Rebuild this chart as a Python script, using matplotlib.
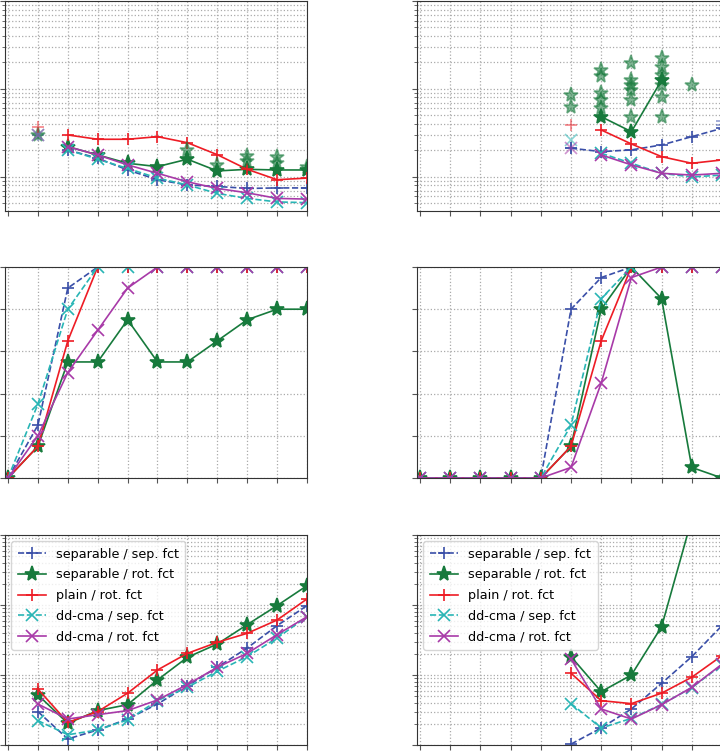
import numpy as np
import matplotlib.pyplot as plt

# x positions (index of problem dimension)
x = np.arange(11)

labels = ['separable / sep. fct', 'separable / rot. fct', 'plain / rot. fct',
          'dd-cma / sep. fct', 'dd-cma / rot. fct']
colors = ['#3a4fa8', '#177a3c', '#ee1c25', '#28b5b5', '#a83aa8']
styles = ['--', '-', '-', '--', '-']
markers = ['+', '*', '+', 'x', 'x']

nan = np.nan

# top row: median values (log scale)
top_left = [
    [nan, nan, 2.03, 1.63, 1.20, 0.93, 0.81, 0.78, 0.74, 0.75, 0.75],
    [nan, nan, 2.21, 1.78, 1.43, 1.31, 1.59, 1.17, 1.22, 1.20, 1.20],
    [nan, nan, 3.00, 2.68, 2.68, 2.87, 2.45, 1.79, 1.22, 0.93, 0.97],
    [nan, nan, 2.03, 1.59, 1.25, 0.97, 0.81, 0.65, 0.57, 0.52, 0.51],
    [nan, nan, 2.21, 1.78, 1.37, 1.10, 0.88, 0.74, 0.66, 0.57, 0.56],
]
top_right = [
    [nan, nan, nan, nan, nan, 2.12, 1.94, 2.03, 2.31, 2.87, 3.57],
    [nan, nan, nan, nan, nan, nan, 4.84, 3.27, 12.6, nan, nan],
    [nan, nan, nan, nan, nan, nan, 3.42, 2.37, 1.70, 1.43, 1.56],
    [nan, nan, nan, nan, nan, nan, 1.86, 1.43, 1.10, 1.00, 1.05],
    [nan, nan, nan, nan, nan, nan, 1.78, 1.37, 1.10, 1.05, 1.10],
]

# single runs shown faded: (series index, x, value)
runs_left = [
    (0, 1, 3.0), (1, 1, 3.0), (2, 1, 3.7), (3, 1, 3.0), (4, 1, 3.0),
    (1, 6, 2.03), (1, 7, 1.37), (1, 8, 1.73), (1, 8, 1.5),
    (1, 9, 1.7), (1, 9, 1.45), (1, 10, 1.3),
]
runs_right = [
    (1, 5, 8.55), (1, 5, 6.28), (2, 5, 3.9), (3, 5, 2.63), (0, 5, 2.12), (4, 5, 2.12),
    (1, 6, 16.4), (1, 6, 14.0), (1, 6, 8.9), (1, 6, 7.5), (1, 6, 6.0),
    (1, 7, 19.6), (1, 7, 12.6), (1, 7, 11.1), (1, 7, 9.7), (1, 7, 7.5), (1, 7, 4.84),
    (1, 8, 22.3), (1, 8, 17.9), (1, 8, 14.4), (1, 8, 11.1), (1, 8, 8.2), (1, 8, 4.84),
    (1, 9, 11.1), (0, 10, 4.3), (0, 10, 3.9),
]

# middle row: success rates
mid_left = [
    [0, 0.25, 0.90, 1, 1, 1, 1, 1, 1, 1, 1],
    [0, 0.15, 0.55, 0.55, 0.75, 0.55, 0.55, 0.65, 0.75, 0.80, 0.80],
    [0, 0.15, 0.65, 1, 1, 1, 1, 1, 1, 1, 1],
    [0, 0.35, 0.80, 1, 1, 1, 1, 1, 1, 1, 1],
    [0, 0.20, 0.50, 0.70, 0.90, 1, 1, 1, 1, 1, 1],
]
mid_right = [
    [0, 0, 0, 0, 0, 0.80, 0.95, 1, 1, 1, 1],
    [0, 0, 0, 0, 0, 0.15, 0.80, 1, 0.85, 0.05, 0],
    [0, 0, 0, 0, 0, 0.15, 0.65, 1, 1, 1, 1],
    [0, 0, 0, 0, 0, 0.25, 0.85, 1, 1, 1, 1],
    [0, 0, 0, 0, 0, 0.05, 0.45, 0.95, 1, 1, 1],
]

# bottom row: cost (log scale)
bot_left = [
    [nan, 0.30, 0.122, 0.164, 0.235, 0.385, 0.70, 1.29, 2.43, 5.07, 9.8],
    [nan, 0.52, 0.204, 0.31, 0.377, 0.85, 1.79, 2.77, 5.24, 9.8, 18.9],
    [nan, 0.63, 0.21, 0.30, 0.55, 1.18, 2.04, 2.93, 3.94, 6.1, 12.2],
    [nan, 0.223, 0.14, 0.164, 0.228, 0.43, 0.667, 1.13, 1.83, 3.38, 6.8],
    [nan, 0.385, 0.235, 0.271, 0.31, 0.44, 0.73, 1.29, 2.04, 3.77, 6.8],
]
bot_right = [
    [nan, nan, nan, nan, nan, 0.103, 0.175, 0.327, 0.76, 1.83, 5.07],
    [nan, nan, nan, nan, nan, 1.83, 0.578, 1.0, 4.9, 170, 1000],
    [nan, nan, nan, nan, nan, 1.06, 0.43, 0.39, 0.55, 0.93, 1.89],
    [nan, nan, nan, nan, nan, 0.39, 0.175, 0.24, 0.38, 0.66, 1.40],
    [nan, nan, nan, nan, nan, 1.69, 0.327, 0.235, 0.377, 0.667, 1.43],
]

fig = plt.figure(figsize=(7.2, 7.51), dpi=100)
W, H = 720, 751


def make_ax(left, top, width, height):
    return fig.add_axes([left / W, 1 - (top + height) / H, width / W, height / H])


def style(ax, log):
    ax.set_xlim(-0.1, 10)
    ax.set_xticks(x)
    if log:
        ax.set_yscale('log')
        ax.grid(True, which='both', ls=':', color='#aaaaaa', lw=0.9)
    else:
        ax.grid(True, ls=':', color='#aaaaaa', lw=0.9)
    ax.tick_params(which='both', labelleft=False, labelbottom=False, color='#555555')
    for s in ax.spines.values():
        s.set_color('#333333')


def msize(m):
    return 11 if m == '*' else 9


def draw(ax, data, runs=None, legend=False):
    for i in range(5):
        ax.plot(x, data[i], ls=styles[i], color=colors[i], marker=markers[i],
                ms=msize(markers[i]), mew=1.2, lw=1.2, label=labels[i])
    if runs:
        for i, xi, v in runs:
            ax.plot(xi, v, ls='none', color=colors[i], marker=markers[i],
                    ms=msize(markers[i]), mew=1.2, alpha=0.55)
    if legend:
        ax.legend(loc='upper left', fontsize=9.2, handlelength=2.2,
                  labelspacing=0.6, borderpad=0.5)


ax1 = make_ax(5, 1, 302, 210)
ax2 = make_ax(417, 1, 305, 210)
ax3 = make_ax(5, 267, 302, 211)
ax4 = make_ax(417, 267, 305, 211)
ax5 = make_ax(5, 535, 302, 210)
ax6 = make_ax(417, 535, 305, 210)

draw(ax1, top_left, runs_left)
draw(ax2, top_right, runs_right)
draw(ax3, mid_left)
draw(ax4, mid_right)
draw(ax5, bot_left, legend=True)
draw(ax6, bot_right, legend=True)

for ax in (ax1, ax2):
    style(ax, True)
    ax.set_ylim(0.41, 100)
for ax in (ax3, ax4):
    style(ax, False)
    ax.set_ylim(0, 1)
    ax.set_yticks(np.linspace(0, 1, 6))
for ax in (ax5, ax6):
    style(ax, True)
    ax.set_ylim(0.1, 100)

plt.savefig('out.png', dpi=100)
